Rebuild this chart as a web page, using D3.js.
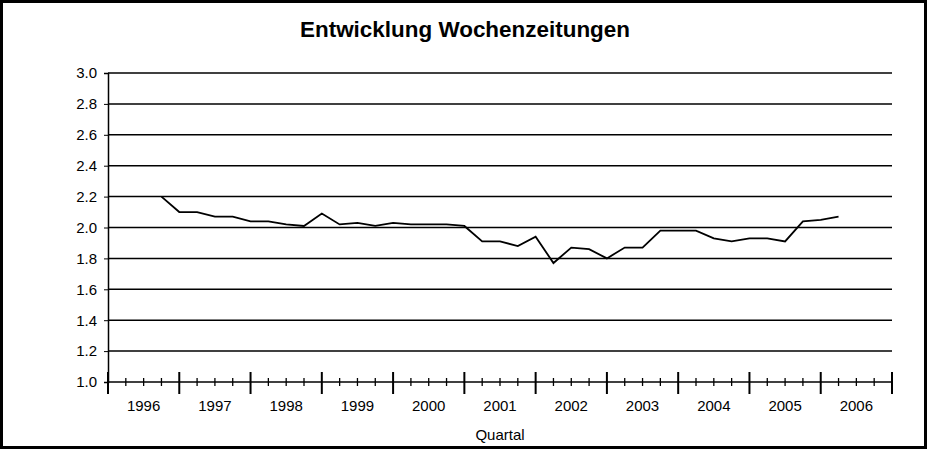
<!DOCTYPE html>
<html><head><meta charset="utf-8">
<script src="https://cdn.jsdelivr.net/npm/d3@7"></script>
<style>body{margin:0;background:#fff}svg{display:block}</style>
</head><body><svg id="c" width="928" height="450"></svg>
<script>
const title = "Entwicklung Wochenzeitungen";
const xTitle = "Quartal";
const years = ["1996","1997","1998","1999","2000","2001","2002","2003","2004","2005","2006"];
const yTicks = [1.0,1.2,1.4,1.6,1.8,2.0,2.2,2.4,2.6,2.8,3.0];
const firstQuarter = 3; // series starts at third quarter boundary of 1996
const values = [2.20,2.10,2.10,2.07,2.07,2.04,2.04,2.02,2.01,2.09,2.02,2.03,2.01,2.03,2.02,2.02,2.02,2.01,
  1.91,1.91,1.88,1.94,1.77,1.87,1.86,1.80,1.87,1.87,1.98,1.98,1.98,1.93,1.91,1.93,1.93,1.91,2.04,2.05,2.07];

const svg = d3.select("#c");
svg.append("rect").attr("x",1.5).attr("y",1.5).attr("width",924).attr("height",446)
  .attr("fill","none").attr("stroke","#000").attr("stroke-width",3);
const L=108,R=892,T=73,B=382;
const x = d3.scaleLinear().domain([0, years.length*4]).range([L,R]);
const y = d3.scaleLinear().domain([1,3]).range([B,T]);
const font = "Arial, 'Liberation Sans', sans-serif";

svg.append("text").attr("x",465).attr("y",37).attr("text-anchor","middle")
  .attr("font-family",font).attr("font-weight","bold").attr("font-size",21.5)
  .attr("textLength",330).attr("lengthAdjust","spacingAndGlyphs").text(title);

svg.append("g").selectAll("line").data(yTicks.slice(1)).join("line")
  .attr("x1",L).attr("x2",R).attr("y1",d=>y(d)).attr("y2",d=>y(d)).attr("stroke","#000").attr("stroke-width",1.5);

const ya = svg.append("g").attr("transform",`translate(${L},0)`)
  .call(d3.axisLeft(y).tickValues(yTicks).tickFormat(d3.format(".1f")).tickSize(4));
ya.select(".domain").attr("stroke-width",1.5);
ya.selectAll("text").attr("font-family",font).attr("font-size",15).attr("dx",-4);

const xa = svg.append("g").attr("transform",`translate(0,${B})`);
xa.append("line").attr("x1",L).attr("x2",R).attr("stroke","#000").attr("stroke-width",1.5);
const qs = d3.range(0, years.length*4+1);
xa.selectAll("line.t").data(qs).join("line").attr("class","t")
  .attr("x1",d=>x(d)).attr("x2",d=>x(d))
  .attr("y1",d=>d%4===0?-10:-4).attr("y2",d=>d%4===0?12:4).attr("stroke","#000").attr("stroke-width",d=>d%4===0?2:1.3);
xa.selectAll("text").data(years).join("text")
  .attr("x",(d,i)=>x(i*4+2)).attr("y",29).attr("text-anchor","middle")
  .attr("font-family",font).attr("font-size",15).text(d=>d);

svg.append("text").attr("x",500).attr("y",440).attr("text-anchor","middle")
  .attr("font-family",font).attr("font-size",15).text(xTitle);

svg.append("path").datum(values).attr("fill","none").attr("stroke","#000").attr("stroke-width",1.8)
  .attr("d", d3.line().x((d,i)=>x(firstQuarter+i)).y(d=>y(d)));
</script></body></html>
